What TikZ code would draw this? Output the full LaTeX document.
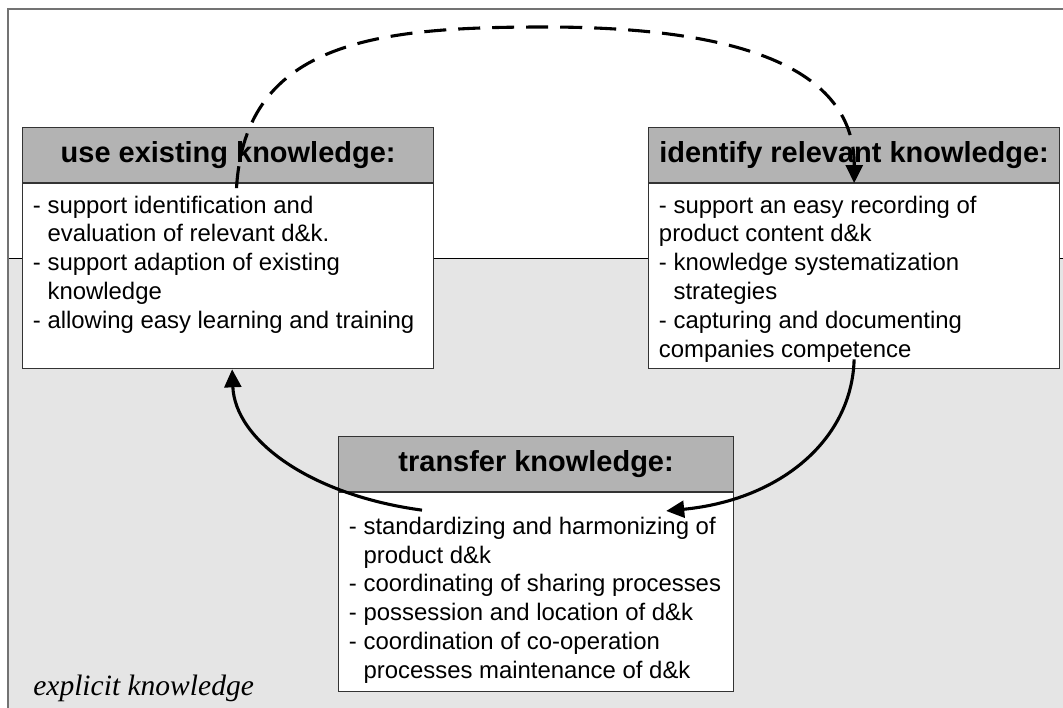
\documentclass[tikz,border=0pt]{standalone}
\usepackage{fontspec}
\setmainfont{Liberation Serif}
\setsansfont{Liberation Sans}
\usetikzlibrary{positioning,arrows.meta}

\definecolor{headgray}{HTML}{B3B3B3}
\definecolor{backgray}{HTML}{E5E5E5}

% continuation lines start under the text after the dash
\newcommand{\ind}{\phantom{- }}
% width, height, top gap, lines
\newcommand{\boxtext}[4]{\parbox[c][#2][t]{#1}{\vspace*{#3}#4}}

\tikzset{
  head/.style={draw=black!80, line width=0.8pt, fill=headgray, inner sep=0pt,
    minimum height=1.375cm, font=\sffamily\bfseries\fontsize{20.6}{24}\selectfont},
  body/.style={draw=black!80, line width=0.8pt, fill=white, inner xsep=0.26cm,
    inner ysep=0pt, font=\sffamily\fontsize{17}{20.6}\selectfont},
  flow/.style={line width=2.2pt, -{Triangle[length=0.45cm,width=0.42cm]}}
}

\begin{document}
\begin{tikzpicture}[x=0.025cm,y=-0.025cm]
    \useasboundingbox (0,0) rectangle (1063,708);
    % Draw the grey lower field and the frame
    \fill[backgray] (8,258) rectangle (1063,708);
    \draw[black, line width=0.7pt] (8,258) -- (1063,258);
    \draw[black!55, line width=1pt] (8,708) -- (8,9) -- (1063,9);
    % Draw the three boxes
    \node[head, minimum width=10.275cm, anchor=north west] (useHead) at (22,127) {use existing knowledge:};
    \node[body, below=0pt of useHead] (useBody) {\boxtext{9.755cm}{4.625cm}{0.3cm}{%
      - support identification and\\
      \ind evaluation of relevant d\&k.\\
      - support adaption of existing\\
      \ind knowledge\\
      - allowing easy learning and training}};
    \node[head, minimum width=10.275cm, anchor=north west] (identHead) at (648,127) {identify relevant knowledge:};
    \node[body, below=0pt of identHead] (identBody) {\boxtext{9.755cm}{4.625cm}{0.3cm}{%
      - support an easy recording of\\
      product content d\&k\\
      - knowledge systematization\\
      \ind strategies\\
      - capturing and documenting\\
      companies competence}};
    \node[head, minimum width=9.875cm, anchor=north west] (transHead) at (338,436) {transfer knowledge:};
    \node[body, below=0pt of transHead] (transBody) {\boxtext{9.355cm}{4.975cm}{0.6cm}{%
      - standardizing and harmonizing of\\
      \ind product d\&k\\
      - coordinating of sharing processes\\
      - possession and location of d\&k\\
      - coordination of co-operation\\
      \ind processes maintenance of d\&k}};
    % Draw the label of the grey field
    \node[anchor=base west, inner sep=0pt, font=\itshape\fontsize{21}{25}\selectfont] (explicitLabel) at (33,695) {explicit knowledge};
    % Draw the cycle between the boxes
    \draw[flow, dash pattern=on 0.55cm off 0.3cm] ([xshift=0.21cm,yshift=-0.125cm]useBody.north)
      .. controls (245,40) and (380,27) .. (545,27)
      .. controls (720,27) and (855,60) .. (identBody.north);
    \draw[flow] ([yshift=0.25cm]identBody.south)
      .. controls (852,440) and (780,500) .. ([xshift=-1.7cm,yshift=-0.47cm]transBody.north east);
    \draw[flow] ([xshift=2.1cm,yshift=-0.45cm]transBody.north west)
      .. controls (310,495) and (235,440) .. ([xshift=0.1cm]useBody.south);
\end{tikzpicture}
\end{document}
